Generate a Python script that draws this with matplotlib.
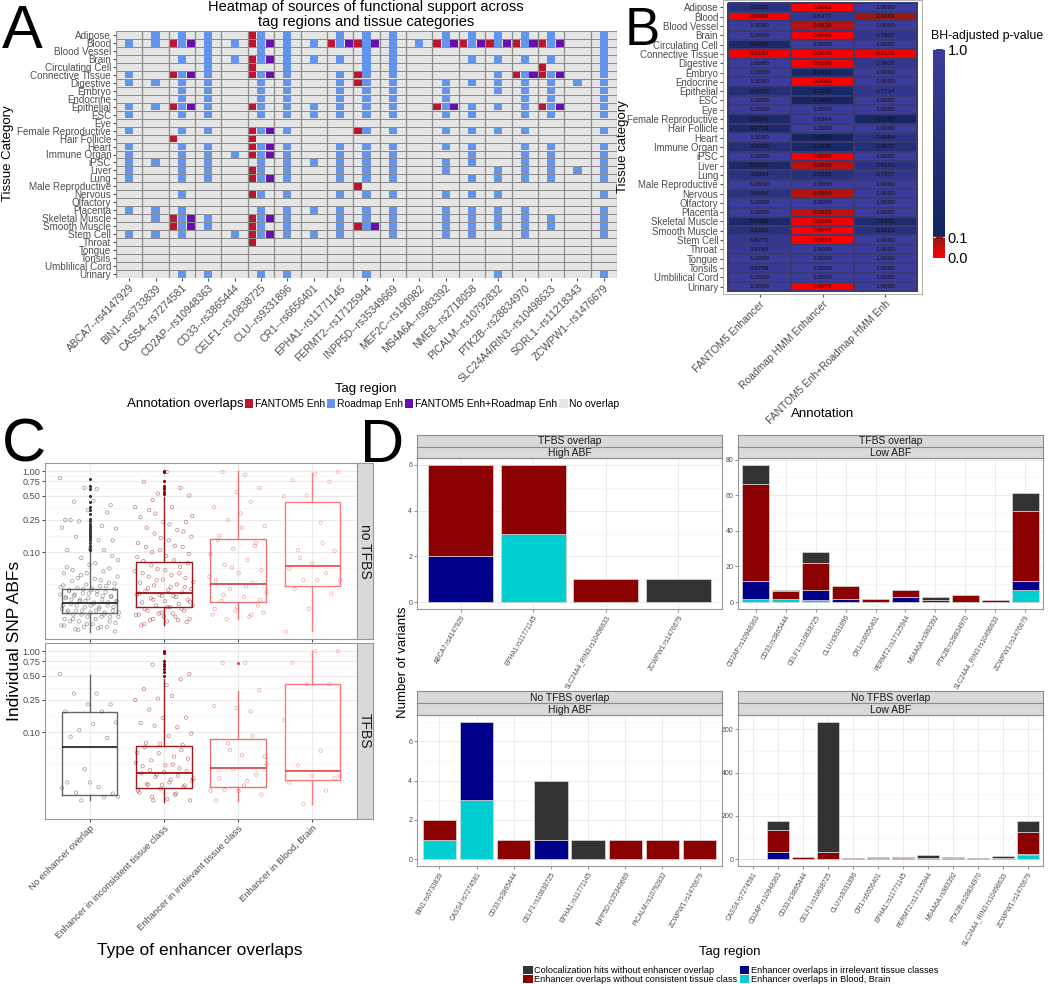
import numpy as np
import matplotlib.pyplot as plt
from matplotlib.patches import Rectangle, Patch
from matplotlib.colors import LinearSegmentedColormap

plt.rcParams['font.family'] = ['Liberation Sans', 'DejaVu Sans']

# ---------------- panel A: overlap heatmap ----------------
tag_regions = ["ABCA7--rs4147929", "BIN1--rs6733839", "CASS4--rs7274581", "CD2AP--rs10948363",
               "CD33--rs3865444", "CELF1--rs10838725", "CLU--rs9331896", "CR1--rs6656401",
               "EPHA1--rs11771145", "FERMT2--rs17125944", "INPP5D--rs35349669", "MEF2C--rs190982",
               "MS4A6A--rs983392", "NME8--rs2718058", "PICALM--rs10792832", "PTK2B--rs28834970",
               "SLC24A4/RIN3--rs10498633", "SORL1--rs11218343", "ZCWPW1--rs1476679"]
tissues = ["Adipose", "Blood", "Blood Vessel", "Brain", "Circulating Cell", "Connective Tissue",
           "Digestive", "Embryo", "Endocrine", "Epithelial", "ESC", "Eye", "Female Reproductive",
           "Hair Follicle", "Heart", "Immune Organ", "iPSC", "Liver", "Lung", "Male Reproductive",
           "Nervous", "Olfactory", "Placenta", "Skeletal Muscle", "Smooth Muscle", "Stem Cell",
           "Throat", "Tongue", "Tonsils", "Umblilical Cord", "Urinary"]

# one string per tissue, one character per tag region (1 = overlap)
fantom_rows = [
    "0000010000000000000", "0010010011001111100", "0000000000000000000", "0000010000000000000",
    "0000010000000000100", "0010010001000001100", "0000000001000000000", "0000000000000000000",
    "0000000000000000000", "0010010000001000100", "0000000000000000000", "0000000000000000000",
    "0000010001000000000", "0010010000000000000", "0000010000000000000", "0000010000000000000",
    "0000000000000000000", "0000010000000000000", "0000010000000000000", "0000000001000000000",
    "0000010000000000000", "0000000000000000000", "0000000000000000000", "0010010000000000000",
    "0010010001000000000", "0000010000000000000", "0000010000000000000", "0000000000000000000",
    "0000000000000000000", "0000000000000000000", "0000000000000000000"]
roadmap_rows = [
    "0111011011101111101", "1111111111111111101", "0001011001100000001", "0011111111100111101",
    "0001001001100000001", "1011011011100011101", "1111011011101111111", "0011011011101011101",
    "0011011011101001101", "1111011111101111101", "1011011111101101101", "0000000000000000000",
    "1011011001101111001", "0000000000000000000", "1011011011101101101", "1011111011100101101",
    "1111011111101101101", "1011011011101011111", "1011011011100111101", "0000000000000000000",
    "0010011011101110001", "0000000000000000000", "1110011111101111001", "0111011011101111101",
    "0011011011101111101", "1110111110101101001", "0000000000000000000", "0000000000000000000",
    "0000000000000000000", "0000000000000000000", "0011011001000010001"]
both_rows = [
    "0000000000000000000", "0010010011001111100", "0000000000000000000", "0000010000000000000",
    "0000000000000000000", "0010010000000001100", "0000000000000000000", "0000000000000000000",
    "0000000000000000000", "0010000000001000100", "0000000000000000000", "0000000000000000000",
    "0000010000000000000", "0000000000000000000", "0000010000000000000", "0000010000000000000",
    "0000000000000000000", "0000000000000000000", "0000010000000000000", "0000000000000000000",
    "0000000000000000000", "0000000000000000000", "0000000000000000000", "0010010000000000000",
    "0010000001000000000", "0000010000000000000", "0000000000000000000", "0000000000000000000",
    "0000000000000000000", "0000000000000000000", "0000000000000000000"]
overlap_labels = ["FANTOM5 Enh", "Roadmap Enh", "FANTOM5 Enh+Roadmap Enh", "No overlap"]

# ---------------- panel B: BH-adjusted p-values ----------------
b_annotations = ["FANTOM5 Enhancer", "Roadmap HMM Enhancer", "FANTOM5 Enh+Roadmap HMM Enh"]
b_fantom = [0.5253, 0.0083, 1.0, 1.0, 0.2668, 0.0167, 1.0, 1.0, 1.0, 0.4350, 1.0, 1.0, 0.2841,
            0.2733, 1.0, 0.4350, 1.0, 0.2507, 0.6054, 1.0, 0.6054, 1.0, 1.0, 0.2686, 0.5253,
            0.8270, 0.8789, 1.0, 0.8789, 1.0, 1.0]
b_roadmap = [0.0062, 0.8373, 0.0639, 0.0083, 1.0, 0.0070, 0.0186, 0.1961, 0.0083, 0.2240, 0.1665,
             1.0, 0.9364, 1.0, 0.1204, 0.2240, 0.0083, 0.0656, 0.5253, 1.0, 0.0656, 1.0, 0.0525,
             0.0186, 0.0062, 0.0062, 1.0, 1.0, 1.0, 1.0, 0.0083]
b_both = [1.0, 0.0889, 1.0, 0.7807, 1.0, 0.0178, 0.7807, 1.0, 1.0, 0.7714, 1.0, 1.0, 0.1785,
          1.0, 0.6054, 0.4537, 1.0, 0.6103, 0.7807, 1.0, 1.0, 1.0, 1.0, 0.3431, 0.5253, 1.0,
          1.0, 1.0, 1.0, 1.0, 1.0]

# ---------------- panel C: SNP ABFs ----------------
c_categories = ["No enhancer overlap", "Enhancer in inconsistent tissue class",
                "Enhancer in irrelevant tissue class", "Enhancer in Blood, Brain"]
# box statistics, no TFBS facet
c_nt_q1 = [0.018, 0.021, 0.024, 0.038]
c_nt_med = [0.0234, 0.031, 0.040, 0.067]
c_nt_q3 = [0.0356, 0.076, 0.146, 0.414]
c_nt_lo = [0.0104, 0.0126, 0.0148, 0.0106]
c_nt_hi = [0.10, 0.48, 1.0, 0.95]
# box statistics, TFBS facet
c_t_q1 = [0.0167, 0.0204, 0.0212, 0.0259]
c_t_med = [0.066, 0.0316, 0.036, 0.033]
c_t_q3 = [0.179, 0.068, 0.083, 0.39]
c_t_lo = [0.0146, 0.0139, 0.0143, 0.0129]
c_t_hi = [0.51, 0.45, 0.32, 1.0]

c_nt_none = [0.82, 0.60, 0.42, 0.38, 0.33, 0.25, 0.21, 0.24, 0.196, 0.43, 0.25, 0.31, 0.62, 0.20,
             0.14, 0.155, 0.14, 0.11, 0.106, 0.106, 0.085, 0.080, 0.073, 0.060, 0.063, 0.055, 0.055,
             0.045, 0.048, 0.041, 0.036, 0.034, 0.038, 0.035, 0.037, 0.033, 0.030, 0.029, 0.031,
             0.028, 0.029, 0.026, 0.025, 0.024, 0.026, 0.024, 0.025, 0.022, 0.021, 0.022, 0.021,
             0.022, 0.019, 0.018, 0.019, 0.018, 0.019, 0.017, 0.016, 0.016, 0.015, 0.016, 0.014,
             0.0135, 0.013, 0.014, 0.012, 0.012, 0.0125, 0.0115, 0.0112, 0.09, 0.07, 0.065, 0.058,
             0.052, 0.05, 0.047, 0.044, 0.042, 0.04, 0.039, 0.038, 0.036, 0.035, 0.034, 0.033,
             0.032, 0.031, 0.030, 0.030, 0.029, 0.028, 0.027, 0.027, 0.026, 0.025, 0.024, 0.023,
             0.023, 0.022, 0.021, 0.020, 0.020, 0.019, 0.019, 0.018, 0.018, 0.017, 0.017, 0.016,
             0.015, 0.015, 0.014, 0.013, 0.0125, 0.012, 0.011, 0.0105]
c_nt_incons = [0.44, 0.50, 0.98, 0.74, 0.62, 0.53, 0.36, 0.36, 0.33, 0.236, 0.236, 0.27, 0.187,
               0.17, 0.155, 0.14, 0.116, 0.116, 0.106, 0.087, 0.08, 0.069, 0.073, 0.06, 0.055,
               0.055, 0.045, 0.043, 0.037, 0.036, 0.037, 0.029, 0.031, 0.028, 0.026, 0.0245, 0.021,
               0.020, 0.020, 0.0175, 0.0168, 0.0175, 0.0145, 0.0138, 0.016, 0.0125, 0.0145, 0.3,
               0.28, 0.22, 0.2, 0.18, 0.15, 0.13, 0.12, 0.1, 0.095, 0.09, 0.078, 0.066, 0.062,
               0.058, 0.052, 0.05, 0.048, 0.046, 0.042, 0.04, 0.039, 0.035, 0.034, 0.033, 0.032,
               0.03, 0.03, 0.029, 0.027, 0.026, 0.025, 0.024, 0.023, 0.022, 0.022, 0.021, 0.019,
               0.019, 0.018, 0.017, 0.016, 0.015, 0.015, 0.014, 0.013]
c_nt_irrel = [0.9, 0.98, 0.62, 0.55, 0.36, 0.42, 0.25, 0.21, 0.2, 0.16, 0.13, 0.11, 0.095, 0.08,
              0.07, 0.06, 0.055, 0.045, 0.042, 0.035, 0.032, 0.028, 0.025, 0.022, 0.019, 0.017,
              0.016, 0.015, 0.018, 0.3, 0.14, 0.12, 0.065, 0.05, 0.038, 0.03, 0.026, 0.021, 0.02,
              0.017]
c_nt_blood = [0.98, 0.93, 0.77, 0.74, 0.5, 0.49, 0.23, 0.106, 0.104, 0.073, 0.063, 0.055, 0.045,
              0.045, 0.045, 0.035, 0.031, 0.020, 0.0104, 0.13, 0.085]
c_t_none = [0.52, 0.30, 0.30, 0.22, 0.22, 0.18, 0.18, 0.106, 0.132, 0.126, 0.088, 0.085, 0.035,
            0.0206, 0.021, 0.018, 0.0175, 0.024, 0.024, 0.0158, 0.0144, 0.016]
c_t_incons = [0.68, 0.52, 0.38, 0.34, 0.45, 0.26, 0.25, 0.28, 0.19, 0.151, 0.15, 0.13, 0.115,
              0.12, 0.096, 0.09, 0.074, 0.07, 0.072, 0.056, 0.05, 0.045, 0.047, 0.039, 0.038,
              0.036, 0.03, 0.027, 0.026, 0.0225, 0.022, 0.0225, 0.018, 0.0175, 0.0144, 0.0144,
              0.015, 0.065, 0.06, 0.055, 0.042, 0.04, 0.034, 0.033, 0.032, 0.031, 0.029, 0.028,
              0.025, 0.024, 0.023, 0.021, 0.02, 0.019, 0.017, 0.016]
c_t_irrel = [0.72, 0.72, 0.33, 0.2, 0.21, 0.18, 0.073, 0.05, 0.052, 0.027, 0.03, 0.035, 0.019,
             0.025, 0.0195, 0.017, 0.0188, 0.0144, 0.09, 0.06, 0.04, 0.022]
c_t_blood = [1.0, 1.0, 0.72, 0.39, 0.39, 0.14, 0.059, 0.039, 0.027, 0.029, 0.024, 0.019, 0.013,
             0.029]
# boxplot outliers
c_nt_outliers = [[0.105, 0.11, 0.12, 0.13, 0.14, 0.15, 0.16, 0.17, 0.18, 0.19, 0.2, 0.21, 0.22,
                  0.24, 0.26, 0.3, 0.33, 0.36, 0.42, 0.5, 0.6, 0.66, 0.8],
                 [0.52, 0.55, 0.6, 0.62, 0.65, 0.75, 0.98, 1.0], [], []]
c_t_outliers = [[], [0.5, 0.55, 0.6, 0.65, 0.7, 0.75, 0.95, 1.0], [0.72], []]

# ---------------- panel D: stacked counts ----------------
d_layers = ["Colocalization hits without enhancer overlap",
            "Enhancer overlaps without consistent tissue class",
            "Enhancer overlaps in irrelevant tissue classes",
            "Enhancer overlaps in Blood, Brain"]
d_tl_tags = ["ABCA7:rs4147929", "EPHA1:rs11771145", "SLC24A4_RIN3:rs10498633", "ZCWPW1:rs1476679"]
d_tl_blood = [0, 3, 0, 0]
d_tl_irrel = [2, 0, 0, 0]
d_tl_incons = [4, 3, 1, 0]
d_tl_coloc = [0, 0, 0, 1]

d_tr_tags = ["CD2AP:rs10948363", "CD33:rs3865444", "CELF1:rs10838725", "CLU:rs9331896",
             "CR1:rs6656401", "FERMT2:rs17125944", "MS4A6A:rs983392", "PTK2B:rs28834970",
             "SLC24A4_RIN3:rs10498633", "ZCWPW1:rs1476679"]
d_tr_blood = [2, 2, 1, 0, 0, 0, 0, 0, 0, 7]
d_tr_irrel = [10, 0, 6, 2, 0, 3, 0, 0, 0, 5]
d_tr_incons = [54, 4, 15, 7, 2, 4, 1, 4, 1, 39]
d_tr_coloc = [11, 1, 6, 0, 0, 0, 2, 0, 0, 10]

d_bl_tags = ["BIN1:rs6733839", "CASS4:rs7274581", "CD33:rs3865444", "CELF1:rs10838725",
             "EPHA1:rs11771145", "INPP5D:rs35349669", "PICALM:rs10792832", "ZCWPW1:rs1476679"]
d_bl_blood = [1, 3, 0, 0, 0, 0, 0, 0]
d_bl_irrel = [0, 4, 0, 1, 0, 0, 0, 0]
d_bl_incons = [1, 0, 1, 0, 0, 1, 1, 1]
d_bl_coloc = [0, 0, 0, 3, 1, 0, 0, 0]

d_br_tags = ["CASS4:rs7274581", "CD2AP:rs10948363", "CD33:rs3865444", "CELF1:rs10838725",
             "CLU:rs9331896", "CR1:rs6656401", "EPHA1:rs11771145", "FERMT2:rs17125944",
             "MS4A6A:rs983392", "PTK2B:rs28834970", "SLC24A4_RIN3:rs10498633", "ZCWPW1:rs1476679"]
d_br_blood = [0, 0, 0, 0, 0, 0, 0, 0, 0, 0, 0, 17]
d_br_irrel = [2, 35, 0, 2, 0, 0, 4, 4, 5, 0, 0, 8]
d_br_incons = [0, 101, 8, 33, 3, 5, 8, 3, 2, 4, 3, 100]
d_br_coloc = [0, 39, 0, 600, 0, 7, 0, 12, 5, 0, 12, 50]

# ---------------- figure ----------------
W, H = 1050.0, 984.0
fig = plt.figure(figsize=(10.5, 9.84), dpi=100)
GT = '#4d4d4d'


def box(x0, y0, x1, y1):
    return fig.add_axes([x0 / W, 1 - y1 / H, (x1 - x0) / W, (y1 - y0) / H])


def fx(x):
    return x / W


def fy(y):
    return 1 - y / H


# panel letters
for letter, x, y, fs in [('A', 2, 48, 44), ('B', 625, 45, 38), ('C', 2, 461, 44),
                         ('D', 360, 462, 44)]:
    fig.text(fx(x), fy(y), letter, fontsize=fs, va='baseline', ha='left')

# ---- A ----
ax = box(116, 31, 617, 278)
ax.set_facecolor('#E5E5E5')
nt, nc = len(tissues), len(tag_regions)
a_cols = ['#BB1530', '#6495ED', '#6A0DAD', '#E5E5E5']
for k, rows in enumerate([fantom_rows, roadmap_rows, both_rows]):
    for i, s in enumerate(rows):
        for j, ch in enumerate(s):
            if ch == '1':
                ax.add_patch(Rectangle((j + k / 3 + 0.012, i + 0.04), 1 / 3 - 0.024, 0.92,
                                       facecolor=a_cols[k], edgecolor='none'))
for i in range(nt + 1):
    ax.axhline(i, color='#8c8c8c', lw=0.7)
for j in range(nc + 1):
    ax.axvline(j, color='#8c8c8c', lw=0.9)
ax.set_xlim(0, nc)
ax.set_ylim(nt, 0)
ax.set_xticks(np.arange(nc) + 0.5)
ax.set_xticklabels(tag_regions, rotation=45, ha='right', va='top', rotation_mode='anchor',
                   fontsize=7.5, color=GT)
ax.set_yticks(np.arange(nt) + 0.5)
ax.set_yticklabels(tissues, fontsize=7.1, color=GT)
ax.tick_params(length=2, color=GT, pad=1.5)
for sp in ax.spines.values():
    sp.set_visible(False)

fig.text(fx(366), fy(7), "Heatmap of sources of functional support across", ha='center',
         va='center', fontsize=10.5)
fig.text(fx(366), fy(22), "tag regions and tissue categories", ha='center', va='center',
         fontsize=10.5)
fig.text(fx(8), fy(153), "Tissue Category", rotation=90, ha='center', va='center', fontsize=9.5)
fig.text(fx(366), fy(389), "Tag region", ha='center', va='center', fontsize=9.5)
fig.text(fx(244), fy(404), "Annotation overlaps", ha='right', va='center', fontsize=9.5)
fig.legend([Patch(facecolor=c, edgecolor='none') for c in a_cols], overlap_labels,
           loc='center left', bbox_to_anchor=(fx(245), fy(404)), ncol=4, frameon=False,
           fontsize=7.5, handlelength=0.8, handleheight=0.9, handletextpad=0.15,
           columnspacing=0.2, borderaxespad=0, borderpad=0)

# ---- B ----
bh_cmap = LinearSegmentedColormap.from_list(
    'bh', [(0, '#FF0000'), (0.1, '#8B1C1C'), (0.1001, '#14255F'), (1.0, '#3C3C9E')])
axb = box(723, 0, 922, 294)
pv = np.array([b_fantom, b_roadmap, b_both]).T
axb.pcolormesh(np.arange(4) - 0.5, np.arange(nt + 1) - 0.5, pv, cmap=bh_cmap, vmin=0, vmax=1,
               edgecolors='#3a3a70', linewidth=0.3)
for i in range(nt):
    for j in range(3):
        axb.text(j, i, f"{pv[i, j]:.4f}", ha='center', va='center', fontsize=4.6, color='#111111')
axb.set_xlim(-0.58, 2.58)
axb.set_ylim(nt - 0.5 + 0.29, -0.79)
axb.set_yticks(range(nt))
axb.set_yticklabels(tissues, fontsize=6.9, color=GT)
axb.set_xticks(range(3))
axb.set_xticklabels(b_annotations, rotation=45, ha='right', va='top', rotation_mode='anchor',
                    fontsize=7.5, color=GT)
axb.tick_params(length=2, color=GT, pad=1.5)
for sp in axb.spines.values():
    sp.set_color('#b3b3b3')
fig.text(fx(623), fy(147), "Tissue category", rotation=90, ha='center', va='center', fontsize=9.5)
fig.text(fx(823), fy(414), "Annotation", ha='center', va='center', fontsize=9.5)

axcb = box(933, 43, 945, 263)
grad = np.linspace(0, 1, 300)[:, None]
axcb.imshow(grad, aspect='auto', cmap=bh_cmap, origin='lower', extent=(0, 1, 0, 1))
axcb.set_ylim(-0.024, 1.029)
axcb.set_xlim(0, 1)
axcb.set_xticks([])
axcb.yaxis.tick_right()
axcb.set_yticks([0.0, 0.1, 1.0])
axcb.set_yticklabels(["0.0", "0.1", "1.0"], fontsize=10.5)
axcb.tick_params(axis='y', length=0, pad=2)
for v in [0.0, 0.1, 1.0]:
    axcb.plot([0, 0.2], [v, v], color='white', lw=0.6)
    axcb.plot([0.8, 1], [v, v], color='white', lw=0.6)
for sp in axcb.spines.values():
    sp.set_visible(False)
fig.text(fx(931), fy(36), "BH-adjusted p-value", ha='left', va='center', fontsize=8.9)

# ---- C ----
c_box_cols = ['#666666', '#9B1C1C', '#EA7474', '#FF7A7A']
c_med_cols = ['#1a1a1a', '#A00000', '#D83A3A', '#FF3B3B']
c_pt_cols = ['#333333', '#8B0000', '#E04848', '#FF5050']
c_ticks = [0.1, 0.25, 0.5, 0.75, 1.0]
c_minor = [0.04, 0.0632, 0.158, 0.354, 0.612, 0.866]
facets = [
    ("no TFBS", 463, 639, c_nt_q1, c_nt_med, c_nt_q3, c_nt_lo, c_nt_hi,
     [c_nt_none, c_nt_incons, c_nt_irrel, c_nt_blood], c_nt_outliers),
    ("TFBS", 643, 819, c_t_q1, c_t_med, c_t_q3, c_t_lo, c_t_hi,
     [c_t_none, c_t_incons, c_t_irrel, c_t_blood], c_t_outliers),
]
for fi, (lab, y0, y1, q1, med, q3, lo, hi, pts, outs) in enumerate(facets):
    axc = box(45, y0, 357, y1)
    axc.set_yscale('log')
    for t in c_ticks:
        axc.axhline(t, color='#EBEBEB', lw=0.8, zorder=0)
    for t in c_minor:
        axc.axhline(t, color='#F4F4F4', lw=0.5, zorder=0)
    for k in range(4):
        axc.axvline(k, color='#EBEBEB', lw=0.8, zorder=0)
        st = [dict(med=med[k], q1=q1[k], q3=q3[k], whislo=lo[k], whishi=hi[k], fliers=[])]
        axc.bxp(st, positions=[k], widths=0.75, showfliers=False, showcaps=False,
                boxprops=dict(color=c_box_cols[k], lw=1.0),
                whiskerprops=dict(color=c_box_cols[k], lw=1.0),
                medianprops=dict(color=c_med_cols[k], lw=1.2))
        yv = np.array(pts[k])
        idx = np.arange(len(yv))
        dx = ((idx * 0.618034 + 0.31 * k) % 1.0 - 0.5) * 0.8
        axc.scatter(k + dx, yv, s=6, facecolors='none', edgecolors=c_pt_cols[k], linewidths=0.5,
                    alpha=0.5, zorder=3)
        if outs[k]:
            axc.scatter(np.full(len(outs[k]), k), outs[k], s=1.5, color=c_pt_cols[k], zorder=4)
    axc.set_xlim(-0.6, 3.6)
    axc.set_ylim(0.0085, 1.26)
    axc.set_yticks(c_ticks)
    axc.set_yticklabels(["0.10", "0.25", "0.50", "0.75", "1.00"], fontsize=6.6, color=GT)
    axc.yaxis.set_minor_locator(plt.NullLocator())
    axc.set_xticks(range(4))
    if fi == 1:
        axc.set_xticklabels(c_categories, rotation=45, ha='right', va='top',
                            rotation_mode='anchor', fontsize=6.8, color=GT)
    else:
        axc.set_xticklabels([])
        axc.tick_params(axis='x', length=0)
    axc.tick_params(length=2, color=GT, pad=1.5)
    for sp in axc.spines.values():
        sp.set_color('#999999')
        sp.set_linewidth(0.8)
    axs = box(357, y0, 373, y1)
    axs.set_facecolor('#D9D9D9')
    axs.set_xticks([])
    axs.set_yticks([])
    for sp in axs.spines.values():
        sp.set_color('#999999')
    axs.text(0.5, 0.5, lab, rotation=-90, ha='center', va='center', fontsize=10,
             color='#1a1a1a', transform=axs.transAxes)
fig.text(fx(15), fy(641), "Individual SNP ABFs", rotation=90, ha='center', va='center',
         fontsize=12.5)
fig.text(fx(200), fy(950), "Type of enhancer overlaps", ha='center', va='center', fontsize=12.5)

# ---- D ----
d_cols = ['#333333', '#8B0000', '#00008B', '#00CED1']
d_panels = [
    (417, 722, 435, 458, 609, "TFBS overlap", "High ABF", d_tl_tags,
     [d_tl_blood, d_tl_irrel, d_tl_incons, d_tl_coloc], [0, 2, 4, 6]),
    (738, 1043, 435, 458, 609, "TFBS overlap", "Low ABF", d_tr_tags,
     [d_tr_blood, d_tr_irrel, d_tr_incons, d_tr_coloc], [0, 20, 40, 60, 80]),
    (417, 722, 691, 715, 866, "No TFBS overlap", "High ABF", d_bl_tags,
     [d_bl_blood, d_bl_irrel, d_bl_incons, d_bl_coloc], [0, 2, 4, 6]),
    (738, 1043, 691, 715, 866, "No TFBS overlap", "Low ABF", d_br_tags,
     [d_br_blood, d_br_irrel, d_br_incons, d_br_coloc], [0, 200, 400, 600]),
]
stack_cols = [d_cols[3], d_cols[2], d_cols[1], d_cols[0]]
for x0, x1, s0, p0, p1, lab1, lab2, tags, layers, yt in d_panels:
    axd = box(x0, p0, x1, p1)
    xs = np.arange(len(tags))
    bottom = np.zeros(len(tags))
    for vals, col in zip(layers, stack_cols):
        vals = np.array(vals, dtype=float)
        m = vals > 0
        axd.bar(xs[m], vals[m], bottom=bottom[m], width=0.9, color=col, edgecolor='#d8d8d8',
                linewidth=0.5, zorder=2)
        bottom += vals
    top = bottom.max()
    axd.set_xlim(-0.6, len(tags) - 0.4)
    axd.set_ylim(-0.05 * top, 1.05 * top)
    step = yt[1] - yt[0]
    for t in yt:
        axd.axhline(t, color='#EBEBEB', lw=0.7, zorder=0)
    for t in np.arange(yt[0] - step / 2, yt[-1] + step, step):
        axd.axhline(t, color='#F5F5F5', lw=0.45, zorder=0)
    for xv in xs:
        axd.axvline(xv, color='#EBEBEB', lw=0.7, zorder=0)
    axd.set_yticks(yt)
    axd.set_yticklabels([str(v) for v in yt], fontsize=5, color=GT)
    axd.set_xticks(xs)
    axd.set_xticklabels(tags, rotation=60, ha='right', va='top', rotation_mode='anchor',
                        fontsize=4.8, color=GT)
    axd.tick_params(length=2, color='#999999', pad=1.5)
    for sp in axd.spines.values():
        sp.set_color('#999999')
        sp.set_linewidth(0.8)
    mid = (s0 + p0) / 2.0
    for (a, b, lab) in [(s0, mid, lab1), (mid, p0, lab2)]:
        st = box(x0, a, x1, b)
        st.set_facecolor('#D9D9D9')
        st.set_xticks([])
        st.set_yticks([])
        for sp in st.spines.values():
            sp.set_color('#8c8c8c')
            sp.set_linewidth(0.8)
        st.text(0.5, 0.45, lab, ha='center', va='center', fontsize=7.5, color='#1a1a1a',
                transform=st.transAxes)

fig.text(fx(403), fy(662), "Number of variants", rotation=90, ha='center', va='center',
         fontsize=9.5)
fig.text(fx(730), fy(952), "Tag region", ha='center', va='center', fontsize=9.5)
fig.legend([Patch(facecolor=c, edgecolor='none') for c in d_cols], d_layers, loc='center',
           bbox_to_anchor=(fx(731), fy(975)), ncol=2, frameon=False, fontsize=6.6,
           handlelength=1.0, handleheight=1.0, handletextpad=0.2, columnspacing=0.3,
           labelspacing=0.05, borderaxespad=0, borderpad=0)

fig.savefig('out.png', dpi=100)
